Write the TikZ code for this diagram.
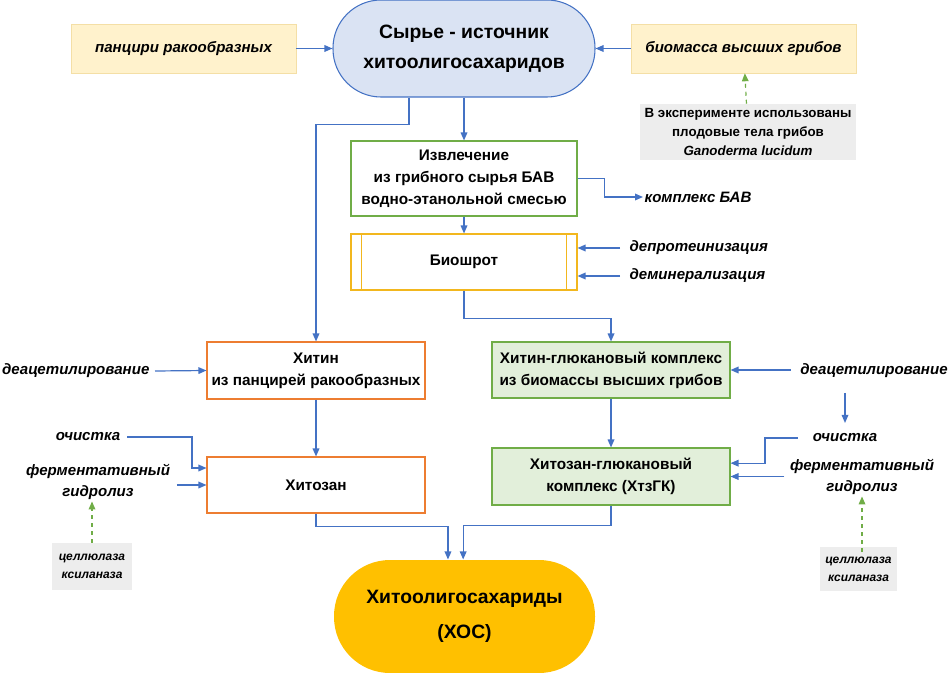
\documentclass[tikz,border=0pt]{standalone}
\usepackage{fontspec}
\setmainfont{Liberation Sans}
\usetikzlibrary{arrows.meta}

\definecolor{arrblue}{HTML}{4472C4}
\definecolor{srcfill}{HTML}{DAE3F3}
\definecolor{srcline}{HTML}{4472C4}
\definecolor{yelfill}{HTML}{FFF2CC}
\definecolor{yelline}{HTML}{F4DFA6}
\definecolor{grayfill}{HTML}{EDEDED}
\definecolor{grnline}{HTML}{70AD47}
\definecolor{grnfill}{HTML}{E2EFDA}
\definecolor{orgline}{HTML}{ED7D31}
\definecolor{bioline}{HTML}{F2B71E}
\definecolor{xosfill}{HTML}{FFC000}
\definecolor{dashgrn}{HTML}{70AD47}

\begin{document}
\begin{tikzpicture}[x=0.75pt, y=-0.75pt]
				\tikzstyle{every node}=[align=center, inner sep=1pt]
				\tikzstyle{box}=[draw, line width=0.8pt, font=\bfseries\fontsize{11.5}{16.5}\selectfont]
				\tikzstyle{lbl}=[font=\bfseries\itshape\fontsize{11.3}{16}\selectfont]
				\tikzstyle{arr}=[draw=arrblue, line width=0.9pt, -{Triangle[length=6pt, width=5pt]}, arrblue]
				\tikzstyle{dsh}=[draw=dashgrn, line width=0.9pt, dashed, -{Triangle[length=6pt, width=5pt]}, dashgrn]
				\useasboundingbox (0,0) rectangle (948,673);

				% source and product
				\node[box, fill=srcfill, draw=srcline, minimum width=196.5pt, minimum height=72.75pt, rounded corners=36pt,
					font=\bfseries\fontsize{14.5}{22.5}\selectfont] (Src) at (464,48.5) {Сырье - источник\\хитоолигосахаридов};
				\node[box, fill=xosfill, draw=none, minimum width=195.75pt, minimum height=84.75pt, rounded corners=42pt,
					font=\bfseries\fontsize{14.5}{26.5}\selectfont] (XOS) at (464.5,616.5) {Хитоолигосахариды\\(ХОС)};

				% raw materials
				\node[lbl, fill=yelfill, draw=yelline, minimum width=168.75pt, minimum height=36.75pt] (Pan) at (183.5,48.5) {панцири ракообразных};
				\node[lbl, fill=yelfill, draw=yelline, minimum width=168.75pt, minimum height=36.75pt] (Bms) at (743.5,48.5) {биомасса высших грибов};
				\node[fill=grayfill, minimum width=162pt, minimum height=42pt, font=\bfseries\fontsize{10}{14}\selectfont] (Note) at (748,132)
					{В эксперименте использованы\\плодовые тела грибов\\\textit{Ganoderma lucidum}};

				% fungal branch
				\node[box, draw=grnline, minimum width=169.5pt, minimum height=56.25pt] (Ext) at (464,178.5)
					{Извлечение\\из грибного сырья БАВ\\водно-этанольной смесью};
				\node[lbl, anchor=west] (BAV) at (643,197) {комплекс БАВ};
				\node[box, draw=bioline, minimum width=169.5pt, minimum height=42pt] (Bio) at (464,262) {Биошрот};
				\draw[bioline, line width=0.8pt] ([xshift=8.25pt]Bio.north west) -- ([xshift=8.25pt]Bio.south west);
				\draw[bioline, line width=0.8pt] ([xshift=-8.25pt]Bio.north east) -- ([xshift=-8.25pt]Bio.south east);
				\node[lbl, anchor=west] (Dep) at (628,248) {депротеинизация};
				\node[lbl, anchor=west] (Dem) at (628,276) {деминерализация};
				\node[box, fill=grnfill, draw=grnline, minimum width=178.5pt, minimum height=42pt] (ChG) at (611,370)
					{Хитин-глюкановый комплекс\\из биомассы высших грибов};
				\node[box, fill=grnfill, draw=grnline, minimum width=178.5pt, minimum height=42.75pt] (ChzG) at (611,476.5)
					{Хитозан-глюкановый\\комплекс (ХтзГК)};
				\node[lbl] (DeaR) at (874,371) {деацетилирование};
				\node[lbl] (OchR) at (845,438) {очистка};
				\node[lbl] (FerR) at (862,477) {ферментативный\\гидролиз};
				\node[fill=grayfill, minimum width=57.75pt, minimum height=33pt, font=\bfseries\itshape\fontsize{9}{13.5}\selectfont] (EnzR) at (858.5,569)
					{целлюлаза\\ксиланаза};

				% crustacean branch
				\node[box, draw=orgline, minimum width=163.5pt, minimum height=42.75pt] (Chit) at (316,370.5)
					{Хитин\\из панцирей ракообразных};
				\node[box, draw=orgline, minimum width=163.5pt, minimum height=42pt] (Chz) at (316,485) {Хитозан};
				\node[lbl, anchor=east] (DeaL) at (151,371) {деацетилирование};
				\node[lbl] (OchL) at (88,437) {очистка};
				\node[lbl] (FerL) at (98,482) {ферментативный\\гидролиз};
				\node[fill=grayfill, minimum width=60pt, minimum height=35.25pt, font=\bfseries\itshape\fontsize{9}{13.5}\selectfont] (EnzL) at (92,566.5)
					{целлюлаза\\ксиланаза};

				\draw[arr]  (Pan) to (Src);
				\draw[arr]  (Bms) to (Src);
				\draw[dsh]  (Note) to (Bms);
				\draw[arr]  (Src) to (Ext);
				\draw[arr]  (Ext.east) -- ++(27,0) |- (BAV.west);
				\draw[arr]  (Ext) to (Bio);
				\draw[arr]  ([xshift=-6pt]Dep.west) -- (Bio.east |- Dep.west);
				\draw[arr]  ([xshift=-6pt]Dem.west) -- (Bio.east |- Dem.west);
				\draw[arr]  (Bio.south) -- ++(0,28) -| (ChG.north);
				\draw[arr]  (ChG) to (ChzG);
				\draw[arr]  ([xshift=-6pt]DeaR.west |- ChG.east) -- (ChG.east);
				\draw[arr, shorten <=10pt, shorten >=7pt]  (OchR.north |- DeaR.south) -- (OchR.north);
				\draw[arr]  ([xshift=-10pt]OchR.west) -- (765,438) |- ([yshift=10pt]ChzG.east);
				\draw[arr]  ([xshift=-3pt]FerR.west |- ChzG.east) -- (ChzG.east);
				\draw[dsh]  ([yshift=-4pt]EnzR.north -| FerR.south) -- (FerR.south);

				\draw[arr]  ([xshift=-41.25pt]Src.south) -- ++(0,27) -| (Chit.north);
				\draw[arr]  ([xshift=3pt]DeaL.east) -- (Chit.west);
				\draw[arr]  (Chit) to (Chz);
				\draw[arr]  ([xshift=4pt]OchL.east) -- (192,437) |- ([yshift=12.75pt]Chz.west);
				\draw[arr]  ([xshift=4pt]FerL.east |- Chz.west) -- (Chz.west);
				\draw[dsh]  (EnzL.north) -- (EnzL.north |- FerL.south);

				\draw[arr]  (Chz.south) -- ++(0,13) -| ([xshift=-12.4pt]XOS.north);
				\draw[arr]  (ChzG.south) -- ++(0,20) -| ([xshift=-1pt]XOS.north);
			\end{tikzpicture}
\end{document}
